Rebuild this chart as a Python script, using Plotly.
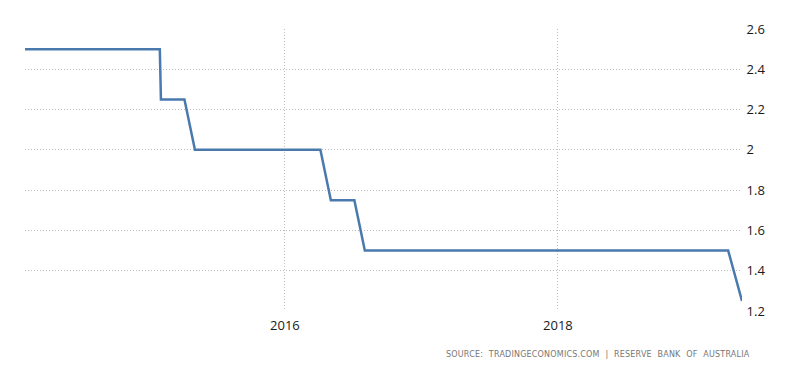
import plotly.graph_objects as go

dates = ["2014-02-04", "2015-01-31", "2015-02-03", "2015-04-07", "2015-05-05",
         "2016-04-05", "2016-05-03", "2016-07-05", "2016-08-02", "2019-04-02", "2019-05-09"]
values = [2.5, 2.5, 2.25, 2.25, 2.0, 2.0, 1.75, 1.75, 1.5, 1.5, 1.25]

y_ticks = [1.2, 1.4, 1.6, 1.8, 2.0, 2.2, 2.4, 2.6]
y_labels = ["1.2", "1.4", "1.6", "1.8", "2", "2.2", "2.4", "2.6"]
x_ticks = ["2016-01-01", "2018-01-01"]
x_labels = ["2016", "2018"]
source = "SOURCE: TRADINGECONOMICS.COM | RESERVE BANK OF AUSTRALIA"

fig = go.Figure(go.Scatter(
    x=dates, y=values, mode="lines",
    line=dict(color="#4a7aad", width=2.5),
    hoverinfo="x+y",
))

grid = dict(showgrid=True, gridcolor="#bdbdbd", griddash="1px,2px", gridwidth=1,
            zeroline=False, showline=False)

fig.update_xaxes(
    range=[dates[0], dates[-1]],
    tickvals=x_ticks, ticktext=x_labels,
    ticks="outside", ticklen=2, tickcolor="rgba(0,0,0,0)",
    tickfont=dict(family="Open Sans", size=13, color="#1a1a1a"),
    **grid,
)
fig.update_yaxes(
    range=[1.2, 2.6], side="right",
    tickvals=y_ticks, ticktext=y_labels,
    ticks="outside", ticklen=1, tickcolor="rgba(0,0,0,0)",
    tickfont=dict(family="Open Sans", size=13, color="#1a1a1a"),
    **grid,
)

fig.add_annotation(
    text='<span style="letter-spacing:0.2px;word-spacing:3px">' + source + '</span>',
    xref="paper", yref="paper", x=1.014, y=-0.155,
    xanchor="right", yanchor="middle", showarrow=False,
    font=dict(family="DejaVu Sans", size=8, color="#777"),
)

fig.update_layout(
    width=784, height=357,
    margin=dict(l=17, r=50, t=13, b=54),
    plot_bgcolor="white", paper_bgcolor="white",
    showlegend=False,
)

fig.write_html("out.html")
